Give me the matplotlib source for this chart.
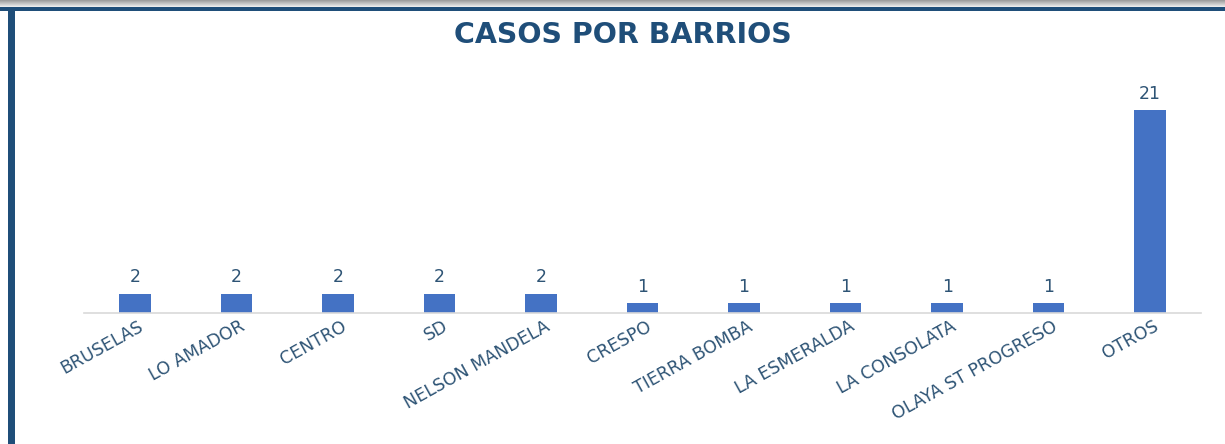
import matplotlib.pyplot as plt
import matplotlib.transforms as mtransforms
from matplotlib.patches import Rectangle
import numpy as np

barrios = ["BRUSELAS", "LO AMADOR", "CENTRO", "SD", "NELSON MANDELA", "CRESPO",
           "TIERRA BOMBA", "LA ESMERALDA", "LA CONSOLATA", "OLAYA ST PROGRESO", "OTROS"]
casos = [2, 2, 2, 2, 2, 1, 1, 1, 1, 1, 21]

title = "CASOS POR BARRIOS"
bar_color = "#4472C4"
text_color = "#2E5475"
border_color = "#1F4E79"

plt.rcParams["font.family"] = ["DejaVu Sans"]

fig = plt.figure(figsize=(12.25, 4.44), dpi=100)
fig.patch.set_facecolor("white")

# frame of the slide: gray strip on top, dark blue border left and top
for i in range(7):
    g = 0.62 + i * 0.05
    fig.add_artist(Rectangle((0, 1 - (i + 1) / 444), 1, 1 / 444, transform=fig.transFigure,
                             facecolor=(g, g, g), edgecolor="none"))
fig.add_artist(Rectangle((0, 1 - 11.5 / 444), 1, 4.5 / 444, transform=fig.transFigure,
                         facecolor=border_color, edgecolor="none"))
fig.add_artist(Rectangle((8 / 1225, 0), 7.5 / 1225, 1 - 7 / 444, transform=fig.transFigure,
                         facecolor=border_color, edgecolor="none"))

ax = fig.add_axes([84 / 1225, 131 / 444, 1117 / 1225, 232 / 444])
x = np.arange(len(barrios))
ax.bar(x, casos, width=0.31, color=bar_color, zorder=2)
ax.set_xlim(-0.5, len(barrios) - 0.5)
ax.set_ylim(0, 24)

for xi, v in zip(x, casos):
    ax.text(xi, v + 0.75, str(v), ha="center", va="bottom", fontsize=12.5, color=text_color)

for s in ["top", "right", "left"]:
    ax.spines[s].set_visible(False)
ax.spines["bottom"].set_color("#D9D9D9")
ax.spines["bottom"].set_linewidth(1.2)
ax.set_yticks([])
ax.set_xticks(x)
ax.set_xticklabels(barrios, rotation=29, ha="right", va="top", rotation_mode="anchor",
                   fontsize=12.5, color=text_color)
ax.tick_params(axis="x", length=0, pad=3)
shift = mtransforms.ScaledTranslation(3 / 100, 0, fig.dpi_scale_trans)
for lbl in ax.get_xticklabels():
    lbl.set_transform(lbl.get_transform() + shift)

fig.text(623 / 1225, 1 - 35 / 444, title, ha="center", va="center", fontsize=20.5,
         fontweight="bold", color=border_color)

fig.savefig("out.png", dpi=100)
